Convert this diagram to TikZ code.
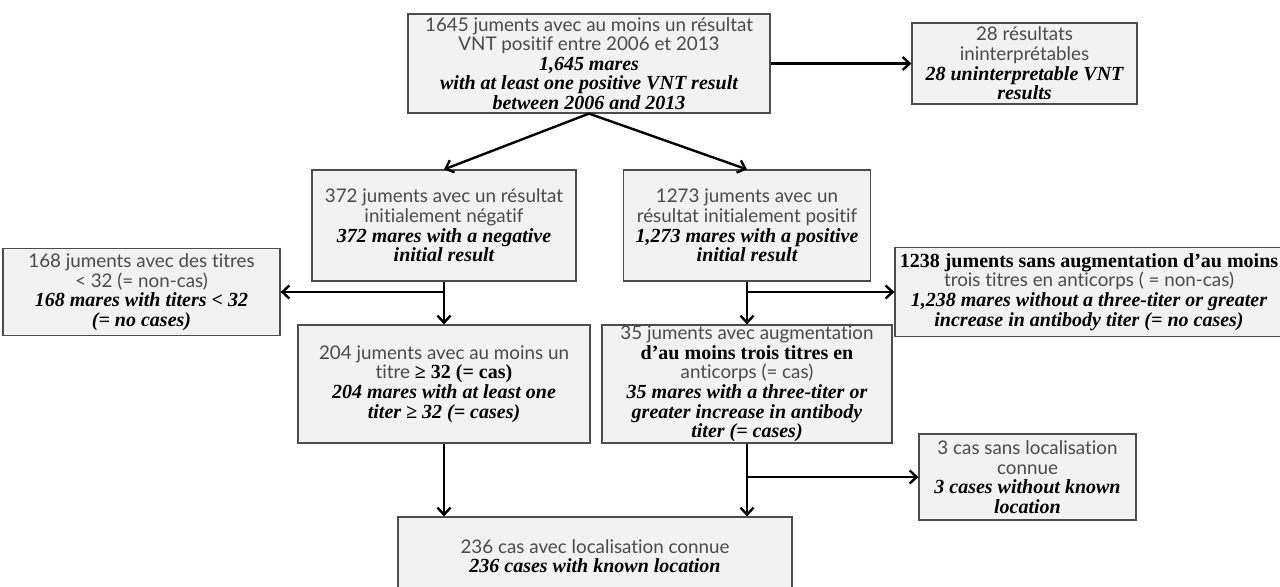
\documentclass[tikz,border=0pt]{standalone}
\usepackage{fontspec}
\usepackage{xcolor}
\usepackage{tikz}
\usetikzlibrary{arrows.meta}

\setmainfont{Liberation Serif}
\newfontfamily\frfont{Lato}[Ligatures=NoCommon]
\definecolor{boxfill}{HTML}{F2F2F2}
\definecolor{frgray}{HTML}{4A4A4A}
\newcommand{\frsty}{\frfont\mdseries\upshape\fontsize{9.4}{9.8}\selectfont\color{frgray}}
\newcommand{\ensty}{\rmfamily\bfseries\itshape\fontsize{10}{9.8}\selectfont\color{black}}
\newcommand{\bfsty}{\rmfamily\bfseries\upshape\fontsize{10}{9.8}\selectfont\color{black}}

\begin{document}
\begin{tikzpicture}[
    x=0.5pt, y=-0.5pt,
    box/.style={rectangle, draw=black!70, fill=boxfill, line width=0.6pt, align=center, inner xsep=0pt, inner ysep=0.5pt, font=\fontsize{9.4}{9.8}\selectfont},
    arrow/.style={-{Straight Barb[length=3.5pt, width=6.5pt]}, line width=1.2pt}
]
    \useasboundingbox (0,0) rectangle (1280,586);
    \clip (0,0) rectangle (1280,586);

    \node[box, minimum width=181pt, minimum height=49.5pt] (all) at (589,63.5) {\frsty 1645 juments avec au moins un résultat\\ \frsty VNT positif entre 2006 et 2013\\ \ensty 1,645 mares\\ \ensty with at least one positive VNT result\\ \ensty between 2006 and 2013};
    \node[box, minimum width=112.5pt, minimum height=40.5pt] (res28) at (1024.5,63.5) {\frsty 28 résultats\\ \frsty ininterprétables\\ \ensty 28 uninterpretable VNT\\ \ensty results};

    \node[box, minimum width=132pt, minimum height=55.5pt] (neg372) at (444,225.5) {\frsty 372 juments avec un résultat\\ \frsty initialement négatif\\ \ensty 372 mares with a negative\\ \ensty initial result};
    \node[box, minimum width=123.5pt, minimum height=55.5pt] (pos1273) at (747,225.5) {\frsty 1273 juments avec un\\ \frsty résultat initialement positif\\ \ensty 1,273 mares with a positive\\ \ensty initial result};

    \node[box, minimum width=138.5pt, minimum height=43.5pt] (lt32) at (141.5,292) {\frsty 168 juments avec des titres\\ \frsty < 32 (= non-cas)\\ \ensty 168 mares with titers < 32\\ \ensty (= no cases)};
    \node[box, minimum width=194pt, minimum height=44.5pt] (noinc) at (1089,292) {\bfsty 1238 juments sans augmentation d’au moins\\ \frsty trois titres en anticorps ( = non-cas)\\ \ensty 1,238 mares without a three-titer or greater\\ \ensty increase in antibody titer (= no cases)};

    \node[box, minimum width=146pt, minimum height=59pt] (ge32) at (444,384) {\frsty 204 juments avec au moins un\\ \frsty titre \bfsty ≥ 32 (= cas)\\ \ensty 204 mares with at least one\\ \ensty titer ≥ 32 (= cases)};
    \node[box, minimum width=145pt, minimum height=59pt] (inc) at (747,384) {\frsty 35 juments avec augmentation\\ \bfsty d’au moins trois titres en\\ \frsty anticorps (= cas)\\ \ensty 35 mares with a three-titer or\\ \ensty greater increase in antibody\\ \ensty titer (= cases)};

    \node[box, minimum width=108.5pt, minimum height=43pt] (noloc) at (1027.5,477) {\frsty 3 cas sans localisation\\ \frsty connue\\ \ensty 3 cases without known\\ \ensty location};
    \node[box, minimum width=197pt, minimum height=39pt] (known) at (595,556) {\frsty 236 cas avec localisation connue\\ \ensty 236 cases with known location};

    \draw[arrow] (all.east) -- (res28.west);
    \draw[arrow] (all.south) -- (neg372.north);
    \draw[arrow] (all.south) -- (pos1273.north);

    \draw[arrow] (neg372.south) -- (ge32.north);
    \draw[arrow] (neg372.south |- lt32.east) -- (lt32.east);
    \draw[arrow] (pos1273.south) -- (inc.north);
    \draw[arrow] (pos1273.south |- noinc.west) -- (noinc.west);

    \draw[arrow] (ge32.south) -- (ge32.south |- known.north);
    \draw[arrow] (inc.south) -- (inc.south |- known.north);
    \draw[arrow] (inc.south |- noloc.west) -- (noloc.west);
\end{tikzpicture}
\end{document}
